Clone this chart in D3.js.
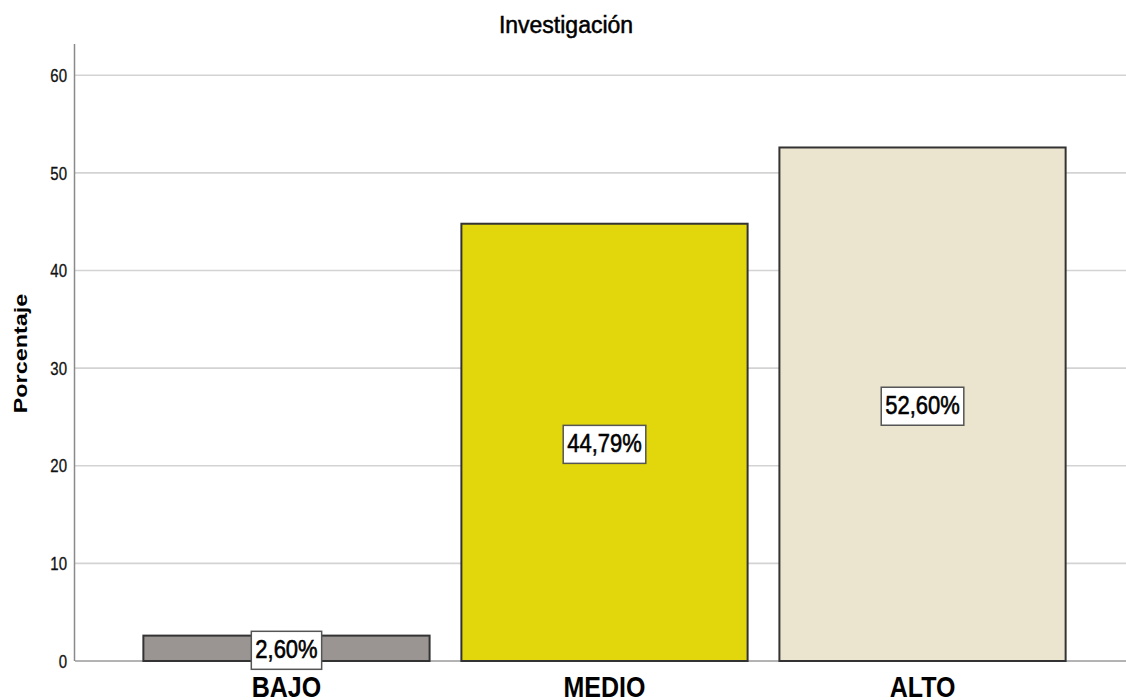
<!DOCTYPE html>
<html>
<head>
<meta charset="utf-8">
<script src="https://cdn.jsdelivr.net/npm/d3@7"></script>
<style>
  body { margin: 0; background: #fff; }
  text { font-family: 'Liberation Sans', Arial, sans-serif; }
</style>
</head>
<body>
<div id="chart"></div>
<script>
const categories = ['BAJO', 'MEDIO', 'ALTO']
const values = [2.60, 44.79, 52.60]
const labels = ['2,60%', '44,79%', '52,60%']
const tickValues = [0, 10, 20, 30, 40, 50, 60]
const barColors = ['#9a9592', '#e2d60c', '#ebe4cf']

const width = 1126
const height = 700

const svg = d3
  .select('#chart')
  .append('svg')
  .attr('width', width)
  .attr('height', height)

// scales
const y = d3
  .scaleLinear()
  .domain([0, 63.2])
  .range([661, 44])

const x = d3
  .scaleBand()
  .domain(categories)
  .range([75, 1134])
  .paddingInner(0.1)
  .paddingOuter(0.215)

// gridlines
svg
  .append('g')
  .selectAll('line')
  .data(tickValues)
  .enter()
  .append('line')
  .attr('x1', 75)
  .attr('x2', width)
  .attr('y1', d => y(d))
  .attr('y2', d => y(d))
  .attr('stroke', d => (d === 0 ? '#9a9a9a' : '#d3d3d3'))
  .attr('stroke-width', 1.6)

// y axis line
svg
  .append('line')
  .attr('x1', 74.5)
  .attr('x2', 74.5)
  .attr('y1', y(y.domain()[1]))
  .attr('y2', y(0))
  .attr('stroke', '#8a8a8a')
  .attr('stroke-width', 1.5)

// tick labels
svg
  .append('g')
  .selectAll('text')
  .data(tickValues)
  .enter()
  .append('text')
  .attr('transform', d => `translate(67,${y(d) + 6.7}) scale(1,1.22)`)
  .attr('text-anchor', 'end')
  .attr('font-size', 15)
  .attr('fill', '#111')
  .attr('stroke', '#111')
  .attr('stroke-width', 0.25)
  .text(d => d)

// bars
svg
  .append('g')
  .selectAll('rect')
  .data(values)
  .enter()
  .append('rect')
  .attr('x', (d, i) => x(categories[i]))
  .attr('y', d => y(d))
  .attr('width', x.bandwidth())
  .attr('height', d => y(0) - y(d))
  .attr('fill', (d, i) => barColors[i])
  .attr('stroke', '#333')
  .attr('stroke-width', 2)

// value labels in boxes
const boxes = svg
  .append('g')
  .selectAll('g')
  .data(values)
  .enter()
  .append('g')
  .attr('transform', (d, i) =>
    `translate(${x(categories[i]) + x.bandwidth() / 2},${(y(d) + y(0)) / 2 + 2})`)

boxes.append('rect')
boxes
  .append('text')
  .attr('transform', 'scale(1,1.18)')
  .attr('y', 6.7)
  .attr('text-anchor', 'middle')
  .attr('font-size', 22)
  .attr('fill', '#000')
  .attr('stroke', '#000')
  .attr('stroke-width', 0.5)
  .text((d, i) => labels[i])

boxes.each(function () {
  const g = d3.select(this)
  const len = g.select('text').node().getComputedTextLength()
  g.select('rect')
    .attr('x', -len / 2 - 4)
    .attr('y', -19)
    .attr('width', len + 8)
    .attr('height', 38)
    .attr('fill', '#fff')
    .attr('stroke', '#555')
    .attr('stroke-width', 1.5)
})

// category labels
svg
  .append('g')
  .selectAll('text')
  .data(categories)
  .enter()
  .append('text')
  .attr('transform', d => `translate(${x(d) + x.bandwidth() / 2},697) scale(1,1.18)`)
  .attr('text-anchor', 'middle')
  .attr('font-size', 25)
  .attr('font-weight', 'bold')
  .attr('fill', '#000')
  .text(d => d)

// title
svg
  .append('text')
  .attr('x', 566)
  .attr('y', 32.7)
  .attr('text-anchor', 'middle')
  .attr('font-size', 23)
  .attr('fill', '#000')
  .attr('stroke', '#000')
  .attr('stroke-width', 0.5)
  .text('Investigación')

// y axis title
svg
  .append('text')
  .attr('transform', 'translate(27.3,353.5) rotate(-90) scale(1.3,1)')
  .attr('text-anchor', 'middle')
  .attr('font-size', 18)
  .attr('font-weight', 'bold')
  .attr('fill', '#000')
  .text('Porcentaje')
</script>
</body>
</html>
